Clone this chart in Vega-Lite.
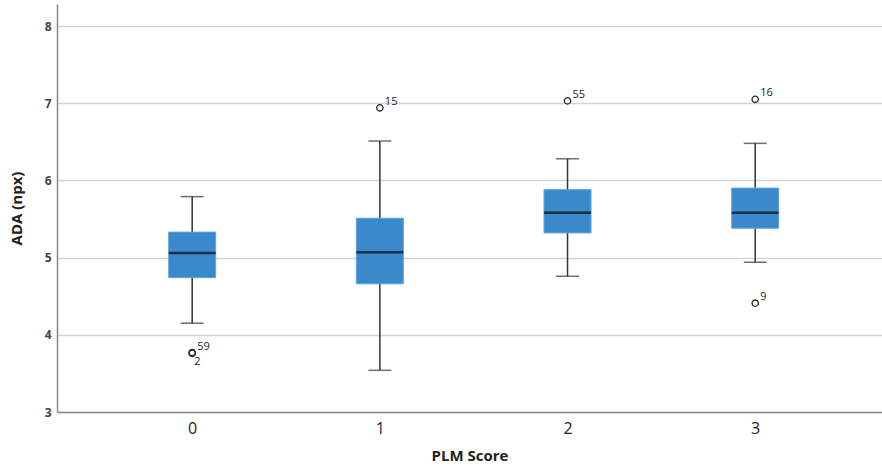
{
  "$schema": "https://vega.github.io/schema/vega-lite/v6.json",
  "width": 825,
  "height": 408,
  "autosize": {"type": "none"},
  "padding": {"left": 57, "top": 4, "right": 0, "bottom": 62},
  "background": "white",
  "config": {
    "view": {"stroke": null},
    "font": "Open Sans"
  },
  "datasets": {
    "boxes": [
      {"score": "0", "lo": 4.15, "q1": 4.74, "med": 5.06, "q3": 5.33, "hi": 5.79},
      {"score": "1", "lo": 3.54, "q1": 4.66, "med": 5.07, "q3": 5.51, "hi": 6.51},
      {"score": "2", "lo": 4.76, "q1": 5.32, "med": 5.58, "q3": 5.88, "hi": 6.28},
      {"score": "3", "lo": 4.94, "q1": 5.38, "med": 5.58, "q3": 5.90, "hi": 6.48}
    ],
    "outliers": [
      {"score": "0", "value": 3.77, "label": "59"},
      {"score": "0", "value": 3.76, "label": "2"},
      {"score": "1", "value": 6.94, "label": "15"},
      {"score": "2", "value": 7.03, "label": "55"},
      {"score": "3", "value": 7.05, "label": "16"},
      {"score": "3", "value": 4.41, "label": "9"}
    ]
  },
  "encoding": {
    "x": {
      "field": "score",
      "type": "ordinal",
      "title": "PLM Score",
      "scale": {"type": "point", "padding": 0.698, "align": 0.516},
      "axis": {
        "labelAngle": 0,
        "ticks": false,
        "domainColor": "#888888",
        "domainWidth": 1.5,
        "labelFontSize": 16,
        "labelColor": "#222222",
        "labelPadding": 8,
        "titleFontSize": 15,
        "titleFontWeight": "bold",
        "titleColor": "#222222",
        "titlePadding": 12
      }
    }
  },
  "layer": [
    {
      "data": {"name": "boxes"},
      "mark": {"type": "rule", "color": "#333333", "strokeWidth": 1.5},
      "encoding": {
        "y": {
          "field": "lo",
          "type": "quantitative",
          "title": "ADA (npx)",
          "scale": {"domain": [3, 8.285], "nice": false, "zero": false},
          "axis": {
            "values": [3, 4, 5, 6, 7, 8],
            "format": "d",
            "ticks": false,
            "grid": true,
            "gridColor": "#d4d4d4",
            "gridWidth": 1.5,
            "domainColor": "#888888",
            "domainWidth": 1.5,
            "labelFontSize": 12,
            "labelFontWeight": "bold",
            "labelColor": "#444444",
            "labelPadding": 6,
            "titleFontSize": 15,
            "titleFontWeight": "bold",
            "titleColor": "#222222",
            "titlePadding": 20
          }
        },
        "y2": {"field": "hi"}
      }
    },
    {
      "data": {"name": "boxes"},
      "mark": {"type": "tick", "orient": "horizontal", "color": "#333333", "size": 23, "thickness": 1.5},
      "encoding": {"y": {"field": "lo", "type": "quantitative"}}
    },
    {
      "data": {"name": "boxes"},
      "mark": {"type": "tick", "orient": "horizontal", "color": "#333333", "size": 23, "thickness": 1.5},
      "encoding": {"y": {"field": "hi", "type": "quantitative"}}
    },
    {
      "data": {"name": "boxes"},
      "mark": {"type": "bar", "size": 47, "color": "#3a8acb", "stroke": "#5aa6e0", "strokeWidth": 1},
      "encoding": {
        "y": {"field": "q1", "type": "quantitative"},
        "y2": {"field": "q3"}
      }
    },
    {
      "data": {"name": "boxes"},
      "mark": {"type": "tick", "orient": "horizontal", "color": "#0a0a0a", "size": 47, "thickness": 2.5},
      "encoding": {"y": {"field": "med", "type": "quantitative"}}
    },
    {
      "data": {"name": "outliers"},
      "mark": {"type": "point", "shape": "circle", "filled": false, "stroke": "#222222", "strokeWidth": 1.3, "size": 40, "opacity": 1},
      "encoding": {"y": {"field": "value", "type": "quantitative"}}
    },
    {
      "data": {"name": "outliers"},
      "transform": [{"filter": "datum.label != '2'"}],
      "mark": {"type": "text", "align": "left", "baseline": "bottom", "dx": 5, "dy": -1, "fontSize": 11, "color": "#222222"},
      "encoding": {
        "y": {"field": "value", "type": "quantitative"},
        "text": {"field": "label"}
      }
    },
    {
      "data": {"name": "outliers"},
      "transform": [{"filter": "datum.label == '2'"}],
      "mark": {"type": "text", "align": "left", "baseline": "top", "dx": 2, "dy": 3, "fontSize": 11, "color": "#222222"},
      "encoding": {
        "y": {"field": "value", "type": "quantitative"},
        "text": {"field": "label"}
      }
    }
  ]
}
